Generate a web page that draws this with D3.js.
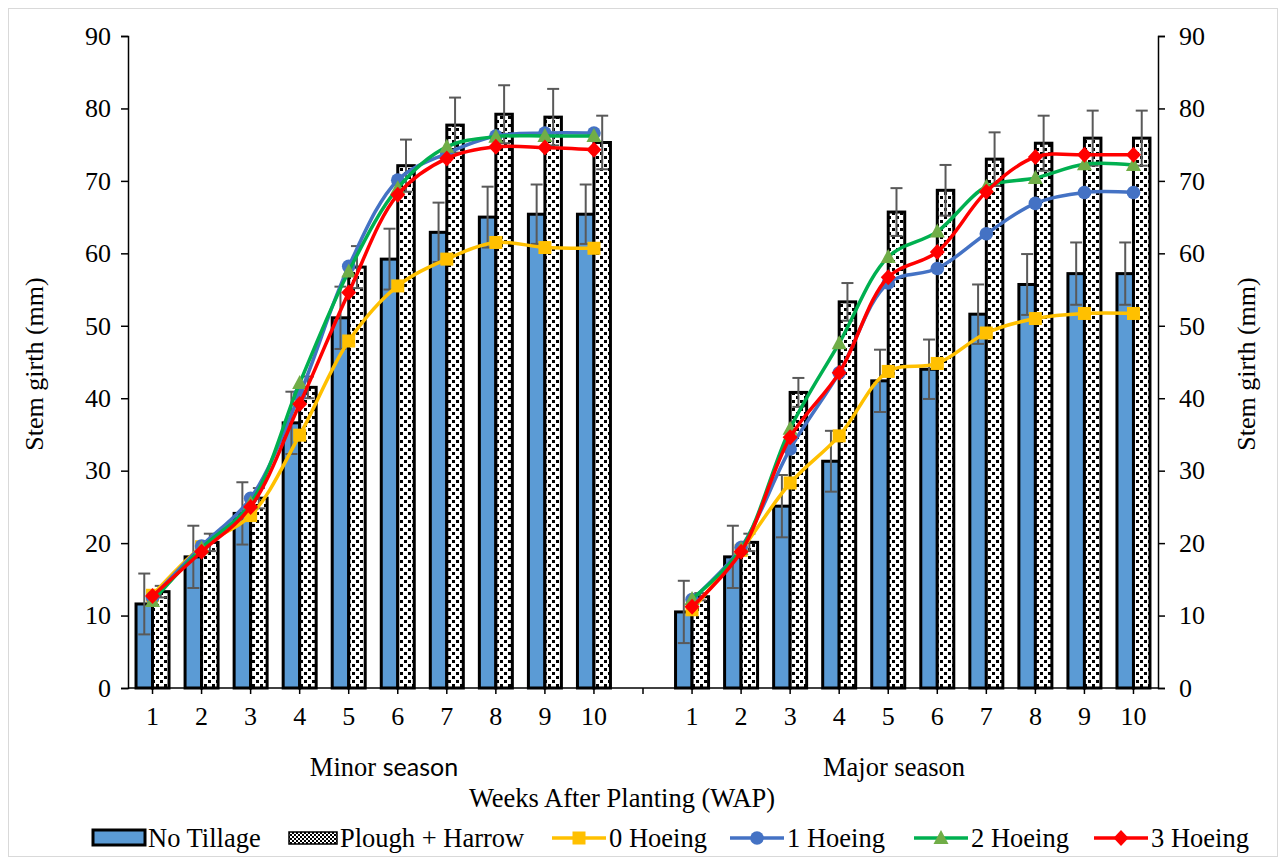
<!DOCTYPE html>
<html>
<head>
<meta charset="utf-8">
<script src="https://cdn.jsdelivr.net/npm/d3@7"></script>
<style>
  html, body { margin: 0; padding: 0; background: #fff; }
  svg { display: block; }
  svg text { font-family: "Liberation Serif", "DejaVu Serif", "Times New Roman", Times, serif; fill: #000; }
</style>
</head>
<body>
<svg id="chart" width="1282" height="861"></svg>
<script>
// ---------- DATA ----------
const weeks = ["1","2","3","4","5","6","7","8","9","10"];
const seasons = ["Minor", "Major"];
const yTicks = [0,10,20,30,40,50,60,70,80,90];

// Bars (mm)
const noTillMinor    = [11.6, 18.1, 24.1, 36.6, 51.1, 59.2, 62.9, 65.0, 65.4, 65.4];
const noTillMinorErr = [4.2, 4.3, 4.3, 4.3, 4.3, 4.2, 4.1, 4.2, 4.1, 4.1];
const ploughMinor    = [13.3, 20.1, 26.2, 41.5, 58.1, 72.1, 77.7, 79.2, 78.8, 75.3];
const ploughMinorErr = [0.8, 1.2, 1.4, 1.5, 2.9, 3.6, 3.8, 4.0, 3.9, 3.7];
const noTillMajor    = [10.5, 18.1, 25.1, 31.3, 42.4, 44.0, 51.6, 55.7, 57.2, 57.2];
const noTillMajorErr = [4.3, 4.3, 4.3, 4.2, 4.3, 4.1, 4.1, 4.2, 4.3, 4.3];
const ploughMajor    = [12.6, 20.1, 40.8, 53.3, 65.7, 68.7, 73.0, 75.2, 75.9, 75.9];
const ploughMajorErr = [0.5, 1.2, 2.0, 2.6, 3.3, 3.5, 3.7, 3.8, 3.8, 3.8];

// Lines (mm)
const hoe0Minor = [12.8, 19.5, 23.8, 34.9, 47.9, 55.5, 59.2, 61.5, 60.8, 60.7];
const hoe1Minor = [12.5, 19.6, 26.2, 40.5, 58.2, 70.1, 73.8, 76.2, 76.6, 76.6];
const hoe2Minor = [12.0, 19.3, 25.5, 42.1, 57.5, 69.0, 74.7, 76.1, 76.2, 76.2];
const hoe3Minor = [12.7, 18.8, 25.0, 39.2, 54.6, 68.1, 73.1, 74.7, 74.6, 74.3];
const hoe0Major = [10.8, 19.0, 28.3, 34.8, 43.7, 44.8, 49.0, 51.0, 51.7, 51.7];
const hoe1Major = [12.2, 19.4, 33.0, 43.5, 55.9, 57.9, 62.7, 66.9, 68.4, 68.4];
const hoe2Major = [12.3, 19.2, 35.8, 47.6, 59.5, 63.0, 69.2, 70.4, 72.3, 72.2];
const hoe3Major = [11.2, 18.8, 34.6, 43.5, 56.7, 60.2, 68.5, 73.3, 73.6, 73.6];

const lineSeries = [
  {name: "0 Hoeing", color: "#FFC000", markerFill: "#FFC000", shape: "square",   minor: hoe0Minor, major: hoe0Major},
  {name: "1 Hoeing", color: "#4472C4", markerFill: "#4472C4", shape: "circle",   minor: hoe1Minor, major: hoe1Major},
  {name: "2 Hoeing", color: "#00B050", markerFill: "#70AD47", shape: "triangle", minor: hoe2Minor, major: hoe2Major},
  {name: "3 Hoeing", color: "#FF0000", markerFill: "#FF0000", shape: "diamond",  minor: hoe3Minor, major: hoe3Major}
];

const SERIF = "'Liberation Serif', 'DejaVu Serif', 'Times New Roman', serif";

// ---------- SETUP ----------
const svg = d3.select("#chart");
const defs = svg.append("defs");
const pat = defs.append("pattern").attr("id", "dots")
  .attr("patternUnits", "userSpaceOnUse").attr("width", 8).attr("height", 8);
pat.append("rect").attr("width", 8).attr("height", 8).attr("fill", "#fff");
pat.append("rect").attr("x", 0).attr("y", 0).attr("width", 3).attr("height", 3).attr("fill", "#000");
pat.append("rect").attr("x", 4).attr("y", 4).attr("width", 3).attr("height", 3).attr("fill", "#000");
const pat2 = defs.append("pattern").attr("id", "dotsSmall")
  .attr("patternUnits", "userSpaceOnUse").attr("width", 4).attr("height", 4);
pat2.append("rect").attr("width", 4).attr("height", 4).attr("fill", "#fff");
pat2.append("rect").attr("x", 0).attr("y", 0).attr("width", 2).attr("height", 2).attr("fill", "#000");
pat2.append("rect").attr("x", 2).attr("y", 2).attr("width", 2).attr("height", 2).attr("fill", "#000");

// chart border
svg.append("rect").attr("x", 8.5).attr("y", 8.5).attr("width", 1269).attr("height", 848)
  .attr("fill", "#fff").attr("stroke", "#D9D9D9").attr("stroke-width", 1);

const cats = [];
weeks.forEach(w => cats.push("Minor-" + w));
cats.push("gap");
weeks.forEach(w => cats.push("Major-" + w));

const x = d3.scaleBand().domain(cats).range([128, 1158]).padding(0);
const y = d3.scaleLinear().domain([0, 90]).range([688, 36]);
const cx = c => x(c) + x.bandwidth() / 2;

const barW = 16.5;

// ---------- AXES ----------
const yAxisL = d3.axisLeft(y).tickValues(yTicks).tickSize(7).tickPadding(10);
const gL = svg.append("g").attr("transform", "translate(128,0)").call(yAxisL);
const yAxisR = d3.axisRight(y).tickValues(yTicks).tickSize(7).tickPadding(14);
const gR = svg.append("g").attr("transform", "translate(1158,0)").call(yAxisR);
[gL, gR].forEach(g => {
  g.attr("font-family", null);
  g.select(".domain").attr("stroke", "#000").attr("stroke-width", 1.5);
  g.selectAll(".tick line").attr("stroke", "#000").attr("stroke-width", 1.5);
  g.selectAll(".tick text").style("font-family", SERIF).style("font-size", "26px").attr("fill", "#000");
});

// ---------- BARS ----------
const barData = [];
seasons.forEach(s => {
  const nt = s === "Minor" ? noTillMinor : noTillMajor;
  const ntE = s === "Minor" ? noTillMinorErr : noTillMajorErr;
  const ph = s === "Minor" ? ploughMinor : ploughMajor;
  const phE = s === "Minor" ? ploughMinorErr : ploughMajorErr;
  weeks.forEach((w, i) => {
    barData.push({cat: s + "-" + w, type: "nt", v: nt[i], e: ntE[i]});
    barData.push({cat: s + "-" + w, type: "ph", v: ph[i], e: phE[i]});
  });
});

const barG = svg.append("g");
barG.selectAll("rect").data(barData).enter().append("rect")
  .attr("x", d => d.type === "nt" ? cx(d.cat) - barW : cx(d.cat))
  .attr("width", barW)
  .attr("y", d => y(d.v))
  .attr("height", d => y(0) - y(d.v))
  .attr("fill", d => d.type === "nt" ? "#5B9BD5" : "url(#dots)")
  .attr("stroke", "#000").attr("stroke-width", 3);

// error bars
const errG = svg.append("g").attr("stroke", "#595959").attr("stroke-width", 2).attr("fill", "none");
barData.forEach(d => {
  const bx = d.type === "nt" ? cx(d.cat) - barW / 2 : cx(d.cat) + barW / 2;
  const y1 = y(d.v + d.e), y2 = y(d.v - d.e);
  errG.append("line").attr("x1", bx).attr("x2", bx).attr("y1", y1).attr("y2", y2);
  errG.append("line").attr("x1", bx - 6).attr("x2", bx + 6).attr("y1", y1).attr("y2", y1);
  errG.append("line").attr("x1", bx - 6).attr("x2", bx + 6).attr("y1", y2).attr("y2", y2);
});

// x axis
const xAxis = d3.axisBottom(x).tickSize(6).tickPadding(13)
  .tickFormat(c => c === "gap" ? "" : c.split("-")[1]);
const gX = svg.append("g").attr("transform", "translate(0,688)").call(xAxis);
gX.attr("font-family", null);
gX.select(".domain").attr("stroke", "#000").attr("stroke-width", 1.5).attr("d", "M128,0H1158");
gX.selectAll(".tick line").attr("stroke", "#000").attr("stroke-width", 1.5);
gX.selectAll(".tick text").style("font-family", SERIF).style("font-size", "26px").attr("fill", "#000");

// ---------- LINES ----------
const lineGen = d3.line().x(d => cx(d.cat)).y(d => y(d.v)).curve(d3.curveCatmullRom.alpha(0.5));

function drawMarker(g, shape, px, py, fill) {
  if (shape === "square") {
    g.append("rect").attr("x", px - 6.5).attr("y", py - 6.5).attr("width", 13).attr("height", 13).attr("fill", fill);
  } else if (shape === "circle") {
    g.append("circle").attr("cx", px).attr("cy", py).attr("r", 6.8).attr("fill", fill);
  } else if (shape === "triangle") {
    g.append("path").attr("d", `M${px},${py - 8}L${px + 7.5},${py + 6}L${px - 7.5},${py + 6}Z`).attr("fill", fill);
  } else if (shape === "diamond") {
    g.append("path").attr("d", `M${px},${py - 8}L${px + 7.5},${py}L${px},${py + 8}L${px - 7.5},${py}Z`).attr("fill", fill);
  }
}

const lineG = svg.append("g");
lineSeries.forEach(s => {
  seasons.forEach(season => {
    const vals = season === "Minor" ? s.minor : s.major;
    const pts = weeks.map((w, i) => ({cat: season + "-" + w, v: vals[i]}));
    lineG.append("path").datum(pts).attr("d", lineGen)
      .attr("fill", "none").attr("stroke", s.color).attr("stroke-width", 3.5);
    const mg = lineG.append("g");
    pts.forEach(p => drawMarker(mg, s.shape, cx(p.cat), y(p.v), s.markerFill));
  });
});

// ---------- TITLES ----------
function txt(sel, size) { return sel.style("font-family", SERIF).style("font-size", size + "px"); }
txt(svg.append("text").attr("transform", "translate(43,364) rotate(-90)")
  .attr("text-anchor", "middle"), 26).text("Stem girth (mm)");
txt(svg.append("text").attr("transform", "translate(1255,364) rotate(-90)")
  .attr("text-anchor", "middle"), 26).text("Stem girth (mm)");

const minorT = txt(svg.append("text").attr("x", 384).attr("y", 776).attr("text-anchor", "middle"), 26.5);
minorT.append("tspan").text("Minor ");
minorT.append("tspan").style("font-family", "Lato, 'Open Sans', sans-serif").style("font-size", "25px").text("season");
txt(svg.append("text").attr("x", 894).attr("y", 776).attr("text-anchor", "middle"), 26.5).text("Major season");
txt(svg.append("text").attr("x", 622).attr("y", 807).attr("text-anchor", "middle"), 26.5).text("Weeks After Planting (WAP)");

// ---------- LEGEND ----------
const legY = 838;
const leg = svg.append("g");
leg.append("rect").attr("x", 93).attr("y", 830).attr("width", 52).attr("height", 15)
  .attr("fill", "#5B9BD5").attr("stroke", "#000").attr("stroke-width", 3);
txt(leg.append("text").attr("x", 148).attr("y", 847), 26.5).text("No Tillage");
leg.append("rect").attr("x", 289).attr("y", 832).attr("width", 48).attr("height", 12)
  .attr("fill", "url(#dotsSmall)").attr("stroke", "#000").attr("stroke-width", 1.5);
txt(leg.append("text").attr("x", 340).attr("y", 847), 26.5).text("Plough + Harrow");

const legLineX = [552, 730, 914, 1094];
lineSeries.forEach((s, i) => {
  const x0 = legLineX[i];
  leg.append("line").attr("x1", x0).attr("x2", x0 + 54).attr("y1", legY).attr("y2", legY)
    .attr("stroke", s.color).attr("stroke-width", 3.5);
  drawMarker(leg, s.shape, x0 + 27, legY, s.markerFill);
  txt(leg.append("text").attr("x", x0 + 57).attr("y", 847), 26.5).text(s.name);
});
</script>
</body>
</html>
